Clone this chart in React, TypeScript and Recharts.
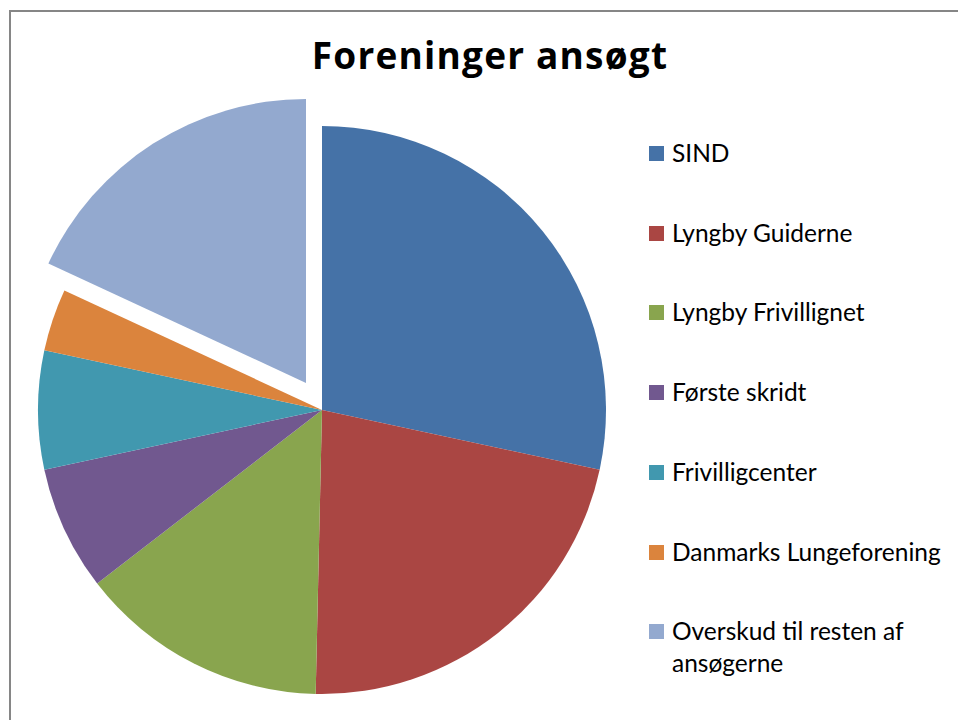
import { PieChart, Pie, Cell } from 'recharts';

const names = [
  'SIND',
  'Lyngby Guiderne',
  'Lyngby Frivillignet',
  'Første skridt',
  'Frivilligcenter',
  'Danmarks Lungeforening',
  'Overskud til resten af ansøgerne',
];
const amounts = [80000, 62000, 40000, 20000, 19000, 10000, 51000];
const colors = ['#4572A7', '#AA4643', '#89A54E', '#71588F', '#4198AF', '#DB843D', '#93A9CF'];

const data = names.map((name, i) => ({ name, value: amounts[i] }));
const exploded = names.length - 1;

const font = 'Lato, Calibri, "Open Sans", sans-serif';

export default function App() {
  return (
    <div style={{ position: 'absolute', left: 0, top: 0, width: 958, height: 720, background: '#fff', overflow: 'hidden' }}>
      <div
        style={{
          position: 'absolute',
          left: 9,
          top: 10,
          width: 1000,
          height: 800,
          border: '2px solid #868686',
          boxSizing: 'border-box',
        }}
      />
      <div
        style={{
          position: 'absolute',
          left: 0,
          width: 980,
          top: 30,
          textAlign: 'center',
          fontFamily: '"Open Sans", Calibri, sans-serif',
          fontWeight: 700,
          fontSize: 37,
          letterSpacing: 1.2,
          lineHeight: '50px',
          color: '#000',
        }}
      >
        Foreninger ansøgt
      </div>
      <PieChart width={958} height={720} style={{ position: 'absolute', left: 0, top: 0 }}>
        <Pie
          data={data}
          dataKey="value"
          nameKey="name"
          cx={317}
          cy={405}
          outerRadius={284}
          startAngle={90}
          endAngle={-270}
          stroke="none"
          isAnimationActive={false}
        >
          {data.map((d, i) => (
            <Cell key={d.name} fill={i === exploded ? 'none' : colors[i]} />
          ))}
        </Pie>
        <Pie
          data={data}
          dataKey="value"
          nameKey="name"
          cx={301}
          cy={378}
          outerRadius={284}
          startAngle={90}
          endAngle={-270}
          stroke="none"
          isAnimationActive={false}
        >
          {data.map((d, i) => (
            <Cell key={d.name} fill={i === exploded ? colors[i] : 'none'} />
          ))}
        </Pie>
      </PieChart>
      {names.map((name, i) => (
        <div
          key={name}
          style={{
            position: 'absolute',
            left: 649,
            top: 137 + i * 79.7,
            width: 300,
            display: 'flex',
            alignItems: 'flex-start',
            fontFamily: font,
            fontSize: 24.5,
            lineHeight: '32px',
            color: '#000',
          }}
        >
          <span style={{ display: 'inline-block', width: 15, height: 15, background: colors[i], marginTop: 9, marginRight: 8, flexShrink: 0 }} />
          <span style={{ width: 270 }}>{name}</span>
        </div>
      ))}
    </div>
  );
}
